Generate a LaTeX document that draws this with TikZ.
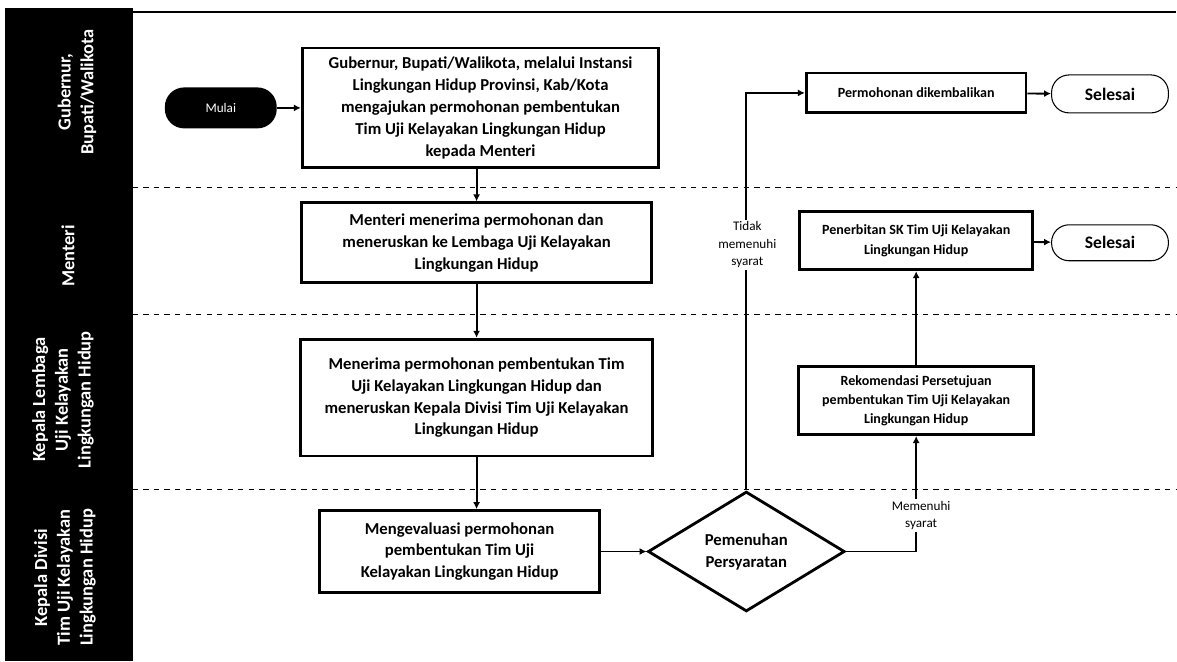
\documentclass[tikz,border=0pt]{standalone}
\usepackage{fontspec}
\setmainfont{Carlito}
\usetikzlibrary{shapes.geometric,arrows.meta}

\begin{document}
\begin{tikzpicture}[x=0.02cm,y=-0.02cm,
    conn/.style={line width=1.1pt, -{Latex[length=4pt,width=4pt]}},
    procbox/.style={draw, line width=1.6pt, align=center, inner sep=0pt, font=\bfseries\fontsize{9.5}{12.5}\selectfont},
    smallbox/.style={draw, line width=1.6pt, align=center, inner sep=0pt, font=\bfseries\fontsize{8}{11}\selectfont},
    endpill/.style={draw, line width=0.6pt, rounded corners=10pt, inner sep=0pt, minimum width=2.34cm, font=\bfseries\fontsize{10}{12}\selectfont},
    lanename/.style={rotate=90, text=white, align=center, font=\bfseries\fontsize{10.5}{13}\selectfont},
    lanesep/.style={dashed, dash pattern=on 3pt off 3pt, line width=0.6pt},
    cond/.style={fill=white, align=center, inner sep=1pt, font=\fontsize{7.5}{10}\selectfont}]
        \fill[white] (0,0) rectangle (1177,662);
        \fill[black] (5,8) rectangle (133,662);
        \draw[line width=1.2pt] (133,12) -- (1177,12);
        \draw[lanesep] (133,188) -- (1177,188);
        \draw[lanesep] (133,315) -- (1177,315);
        \draw[lanesep] (133,490) -- (1177,490);

        \node[lanename] (l1) at (77,92) {Gubernur,\\Bupati/Walikota};
        \node[lanename] (l2) at (68,256) {Menteri};
        \node[lanename] (l3) at (63,400) {Kepala Lembaga\\Uji Kelayakan\\Lingkungan Hidup};
        \node[lanename] (l4) at (65,578) {Kepala Divisi\\Tim Uji Kelayakan\\Lingkungan Hidup};

        \node[fill=black, text=white, rounded corners=11pt, minimum width=2.24cm, minimum height=0.82cm, font=\fontsize{7.5}{9}\selectfont] (m) at (221,108) {Mulai};
        \node[procbox, minimum width=7.14cm, minimum height=2.4cm] (b1) at (481,108) {Gubernur, Bupati/Walikota, melalui Instansi\\Lingkungan Hidup Provinsi, Kab/Kota\\mengajukan permohonan pembentukan\\Tim Uji Kelayakan Lingkungan Hidup\\kepada Menteri};
        \node[procbox, minimum width=7cm, minimum height=1.6cm] (b2) at (477,243) {Menteri menerima permohonan dan\\meneruskan ke Lembaga Uji Kelayakan\\Lingkungan Hidup};
        \node[procbox, minimum width=7.04cm, minimum height=2.34cm] (b3) at (477,398) {Menerima permohonan pembentukan Tim\\Uji Kelayakan Lingkungan Hidup dan\\meneruskan Kepala Divisi Tim Uji Kelayakan\\Lingkungan Hidup};
        \node[procbox, minimum width=5.6cm, minimum height=1.64cm] (b4) at (460,552) {Mengevaluasi permohonan\\pembentukan Tim Uji\\Kelayakan Lingkungan Hidup};
        \node[draw, diamond, line width=1.6pt, align=center, inner sep=0pt, minimum width=3.94cm, minimum height=2.4cm, font=\bfseries\fontsize{9.5}{12.5}\selectfont] (d) at (747,552) {Pemenuhan\\Persyaratan};

        \node[smallbox, minimum width=4.4cm, minimum height=0.8cm] (k) at (917,93) {Permohonan dikembalikan};
        \node[endpill, minimum height=0.76cm] (s1) at (1111,94) {Selesai};
        \node[smallbox, minimum width=4.66cm, minimum height=1.16cm] (sk) at (917,241) {Penerbitan SK Tim Uji Kelayakan\\Lingkungan Hidup};
        \node[endpill, minimum height=0.72cm] (s2) at (1111,243) {Selesai};
        \node[smallbox, minimum width=4.7cm, minimum height=1.36cm] (r) at (917,401) {Rekomendasi Persetujuan\\pembentukan Tim Uji Kelayakan\\Lingkungan Hidup};

        \draw[conn] (m) -- (b1);
        \draw[conn] (b1.south -| b2.north) -- (b2);
        \draw[conn] (b2) -- (b3);
        \draw[conn] (b3.south) -- (b3.south |- b4.north);
        \draw[conn] (b4) -- (d);
        \draw[conn] (d.north) |- (k.west);
        \draw[conn] (d.east) -| (r.south);
        \draw[conn] (r) -- (sk);
        \draw[conn] (sk) -- (s2);
        \draw[conn] (k) -- (s1);

        \node[cond] (tm) at (748,245) {Tidak\\memenuhi\\syarat};
        \node[cond] (ms) at (922,516) {Memenuhi\\syarat};
    \end{tikzpicture}
\end{document}
